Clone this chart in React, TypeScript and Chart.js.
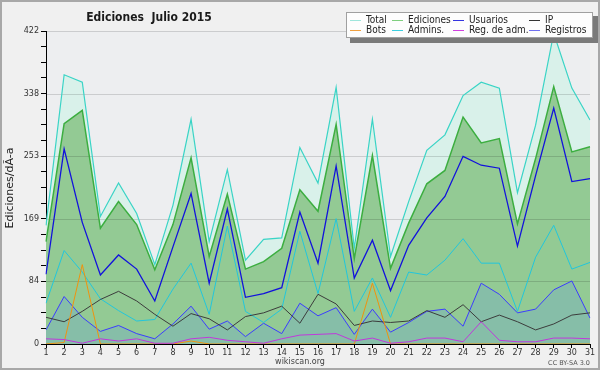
import React, { useEffect, useRef } from 'react';
import { Chart, registerables } from 'chart.js';
Chart.register(...registerables);

const days = ['1','2','3','4','5','6','7','8','9','10','11','12','13','14','15','16','17','18','19','20','21','22','23','24','25','26','27','28','29','30','31'];
const total = [160, 363, 353, 172, 217, 176, 107, 187, 303, 138, 235, 113, 141, 143, 265, 217, 346, 129, 303, 118, 192, 261, 282, 335, 353, 345, 204, 295, 419, 345, 302];
const ediciones = [138, 297, 315, 156, 192, 161, 100, 161, 251, 118, 202, 101, 111, 129, 208, 179, 296, 115, 254, 102, 163, 216, 234, 306, 271, 277, 162, 250, 347, 259, 266];
const usuarios = [94, 263, 164, 93, 120, 101, 58, 131, 203, 82, 182, 63, 68, 76, 178, 109, 240, 89, 140, 72, 133, 170, 199, 253, 241, 237, 132, 227, 318, 219, 223];
const ip = [36, 30, 44, 60, 71, 58, 40, 24, 41, 34, 19, 37, 42, 51, 28, 67, 54, 25, 31, 29, 31, 45, 36, 53, 30, 39, 30, 19, 27, 39, 42];
const bots = [0, 2, 107, 0, 0, 0, 0, 0, 4, 0, 0, 0, 0, 0, 0, 0, 0, 0, 82, 0, 0, 0, 0, 0, 0, 0, 0, 0, 0, 0, 0];
const admins = [55, 126, 97, 61, 45, 31, 33, 74, 109, 40, 159, 44, 29, 47, 152, 68, 169, 44, 89, 36, 97, 93, 113, 142, 109, 109, 44, 117, 160, 101, 110];
const regAdm = [7, 6, 1, 7, 4, 7, 1, 1, 7, 9, 5, 3, 1, 7, 12, 13, 14, 4, 8, 1, 3, 8, 8, 3, 30, 5, 3, 3, 8, 8, 7];
const registros = [19, 64, 36, 17, 25, 14, 7, 27, 51, 20, 31, 10, 28, 14, 55, 38, 49, 13, 47, 16, 29, 44, 47, 24, 82, 67, 42, 47, 73, 85, 35];

const yMax = 422;
const yDivisions = 20; // minor ticks, every 4th is major

const titleText = 'Ediciones  Julio 2015';
const yTitle = 'Ediciones/dÃ-a';
const legendItems = [
  { label: 'Total', color: '#9fe6dc' },
  { label: 'Ediciones', color: '#7fcf7f' },
  { label: 'Usuarios', color: '#3434e0' },
  { label: 'IP', color: '#333333' },
  { label: 'Bots', color: '#f0a040' },
  { label: 'Admins.', color: '#3ccfe0' },
  { label: 'Reg. de adm.', color: '#d040e0' },
  { label: 'Registros', color: '#7070f0' },
];

const FONT = '"DejaVu Sans", sans-serif';
const FONT_C = '"DejaVu Sans Condensed", "DejaVu Sans", sans-serif';

const bgPlugin = {
  id: 'bgPlugin',
  beforeDraw(chart: any) {
    const { ctx, width, height, chartArea } = chart;
    ctx.save();
    ctx.fillStyle = '#f0f0f0';
    ctx.fillRect(0, 0, width, height);
    ctx.strokeStyle = '#a8a8a8';
    ctx.lineWidth = 2;
    ctx.strokeRect(1, 1, width - 2, height - 2);
    ctx.fillStyle = '#edeef0';
    ctx.fillRect(chartArea.left, chartArea.top, chartArea.right - chartArea.left, chartArea.bottom - chartArea.top);
    ctx.restore();
  },
};

const gridPlugin = {
  id: 'gridPlugin',
  beforeDatasetsDraw(chart: any) {
    const { ctx, chartArea } = chart;
    const ys = chart.scales.y;
    ctx.save();
    ctx.strokeStyle = 'rgba(0,0,0,0.14)';
    ctx.lineWidth = 1;
    for (let i = 4; i <= yDivisions; i += 4) {
      const y = Math.round(ys.getPixelForValue((yMax * i) / yDivisions)) + 0.5;
      ctx.beginPath();
      ctx.moveTo(chartArea.left, y);
      ctx.lineTo(chartArea.right, y);
      ctx.stroke();
    }
    ctx.restore();
  },
};

const decorPlugin = {
  id: 'decorPlugin',
  afterDraw(chart: any) {
    const { ctx } = chart;
    ctx.save();
    // title
    ctx.fillStyle = '#1a1a1a';
    ctx.font = 'bold 12px ' + FONT_C;
    ctx.textAlign = 'center';
    ctx.textBaseline = 'alphabetic';
    ctx.fillText(titleText, 149, 21);

    // y title
    ctx.save();
    ctx.translate(10, 188);
    ctx.rotate(-Math.PI / 2);
    ctx.font = '11px ' + FONT;
    ctx.fillStyle = '#1a1a1a';
    ctx.textAlign = 'center';
    ctx.textBaseline = 'middle';
    ctx.fillText(yTitle, 0, 0);
    ctx.restore();

    // legend
    ctx.fillStyle = '#7a7a7a';
    ctx.fillRect(350, 16, 248, 27);
    ctx.fillStyle = '#fdfdfd';
    ctx.fillRect(346, 12, 247, 26);
    ctx.strokeStyle = '#a0a0a0';
    ctx.lineWidth = 1;
    ctx.strokeRect(346.5, 12.5, 246, 25);
    const cols = [{ lx: 350, tx: 366 }, { lx: 392, tx: 408 }, { lx: 453, tx: 469 }, { lx: 529, tx: 545 }];
    const rows = [19.5, 29.5];
    ctx.font = '10px ' + FONT_C;
    ctx.textAlign = 'left';
    ctx.textBaseline = 'middle';
    legendItems.forEach((it, i) => {
      const c = cols[i % 4];
      const y = rows[Math.floor(i / 4)];
      ctx.strokeStyle = it.color;
      ctx.lineWidth = 1;
      ctx.beginPath();
      ctx.moveTo(c.lx, Math.round(y) + 0.5);
      ctx.lineTo(c.lx + 11, Math.round(y) + 0.5);
      ctx.stroke();
      ctx.fillStyle = '#222';
      ctx.fillText(it.label, c.tx, y + 0.5);
    });

    // footer
    ctx.fillStyle = '#444';
    ctx.font = '8px ' + FONT;
    ctx.textAlign = 'center';
    ctx.fillText('wikiscan.org', 300, 362);
    ctx.fillStyle = '#555';
    ctx.font = '6.5px ' + FONT;
    ctx.textAlign = 'right';
    ctx.fillText('CC BY-SA 3.0', 590, 363);
    ctx.restore();
  },
};

function line(label: string, data: number[], color: string, width: number, extra: any = {}) {
  return {
    label,
    data,
    borderColor: color,
    borderWidth: width,
    pointRadius: 0,
    pointHoverRadius: 0,
    tension: 0,
    fill: false,
    order: 0,
    ...extra,
  };
}

export default function App() {
  const ref = useRef<HTMLCanvasElement | null>(null);
  useEffect(() => {
    document.body.style.margin = '0';
    const canvas = ref.current!;
    const chart = new Chart(canvas, {
      type: 'line',
      data: {
        labels: days,
        datasets: [
          line('Reg. de adm.', regAdm, '#c038dc', 1),
          line('Bots', bots, '#f0920e', 1),
          line('IP', ip, '#3c3c3c', 1),
          line('Admins.', admins, '#22c6dc', 1),
          line('Usuarios', usuarios, '#1212dc', 1.3),
          line('Registros', registros, '#3c3cff', 1, { fill: 'origin', backgroundColor: '#86bea8', order: 1 }),
          line('Ediciones', ediciones, '#3cae40', 1.5, { fill: 'origin', backgroundColor: '#93ca94', order: 2 }),
          line('Total', total, '#3ad4c6', 1.2, { fill: 'origin', backgroundColor: '#d9f1ea', order: 3 }),
        ],
      },
      options: {
        responsive: false,
        animation: false,
        events: [],
        layout: { padding: { left: 0, top: 31, right: 10, bottom: 0 } },
        plugins: {
          legend: { display: false },
          title: { display: false },
          tooltip: { enabled: false },
          filler: { drawTime: 'beforeDatasetsDraw' },
        },
        scales: {
          x: {
            type: 'category',
            offset: false,
            grid: { drawOnChartArea: false, drawTicks: true, tickLength: 4, tickColor: '#000' },
            border: { display: true, color: '#000', width: 1 },
            ticks: { color: '#333', font: { family: 'DejaVu Sans', size: 8 }, padding: 0, maxRotation: 0, autoSkip: false },
            afterFit(s: any) { s.height = 26; },
          },
          y: {
            type: 'linear',
            min: 0,
            max: yMax,
            afterBuildTicks(s: any) {
              const t = [];
              for (let i = 0; i <= yDivisions; i++) t.push({ value: (yMax * i) / yDivisions });
              s.ticks = t;
            },
            grid: { drawOnChartArea: false, drawTicks: true, tickLength: 5, tickColor: '#000' },
            border: { display: true, color: '#000', width: 1 },
            ticks: {
              color: '#333',
              font: { family: 'DejaVu Sans', size: 8 },
              padding: 2,
              autoSkip: false,
              callback: (v: any, i: number) => (i % 4 === 0 ? String(Math.round(v)) : ''),
            },
            afterFit(s: any) { s.width = 46; },
          },
        },
      },
      plugins: [bgPlugin, gridPlugin, decorPlugin],
    } as any);
    return () => chart.destroy();
  }, []);
  return (
    <div style={{ width: 600, height: 370 }}>
      <canvas ref={ref} width={600} height={370} style={{ display: 'block' }} />
    </div>
  );
}
